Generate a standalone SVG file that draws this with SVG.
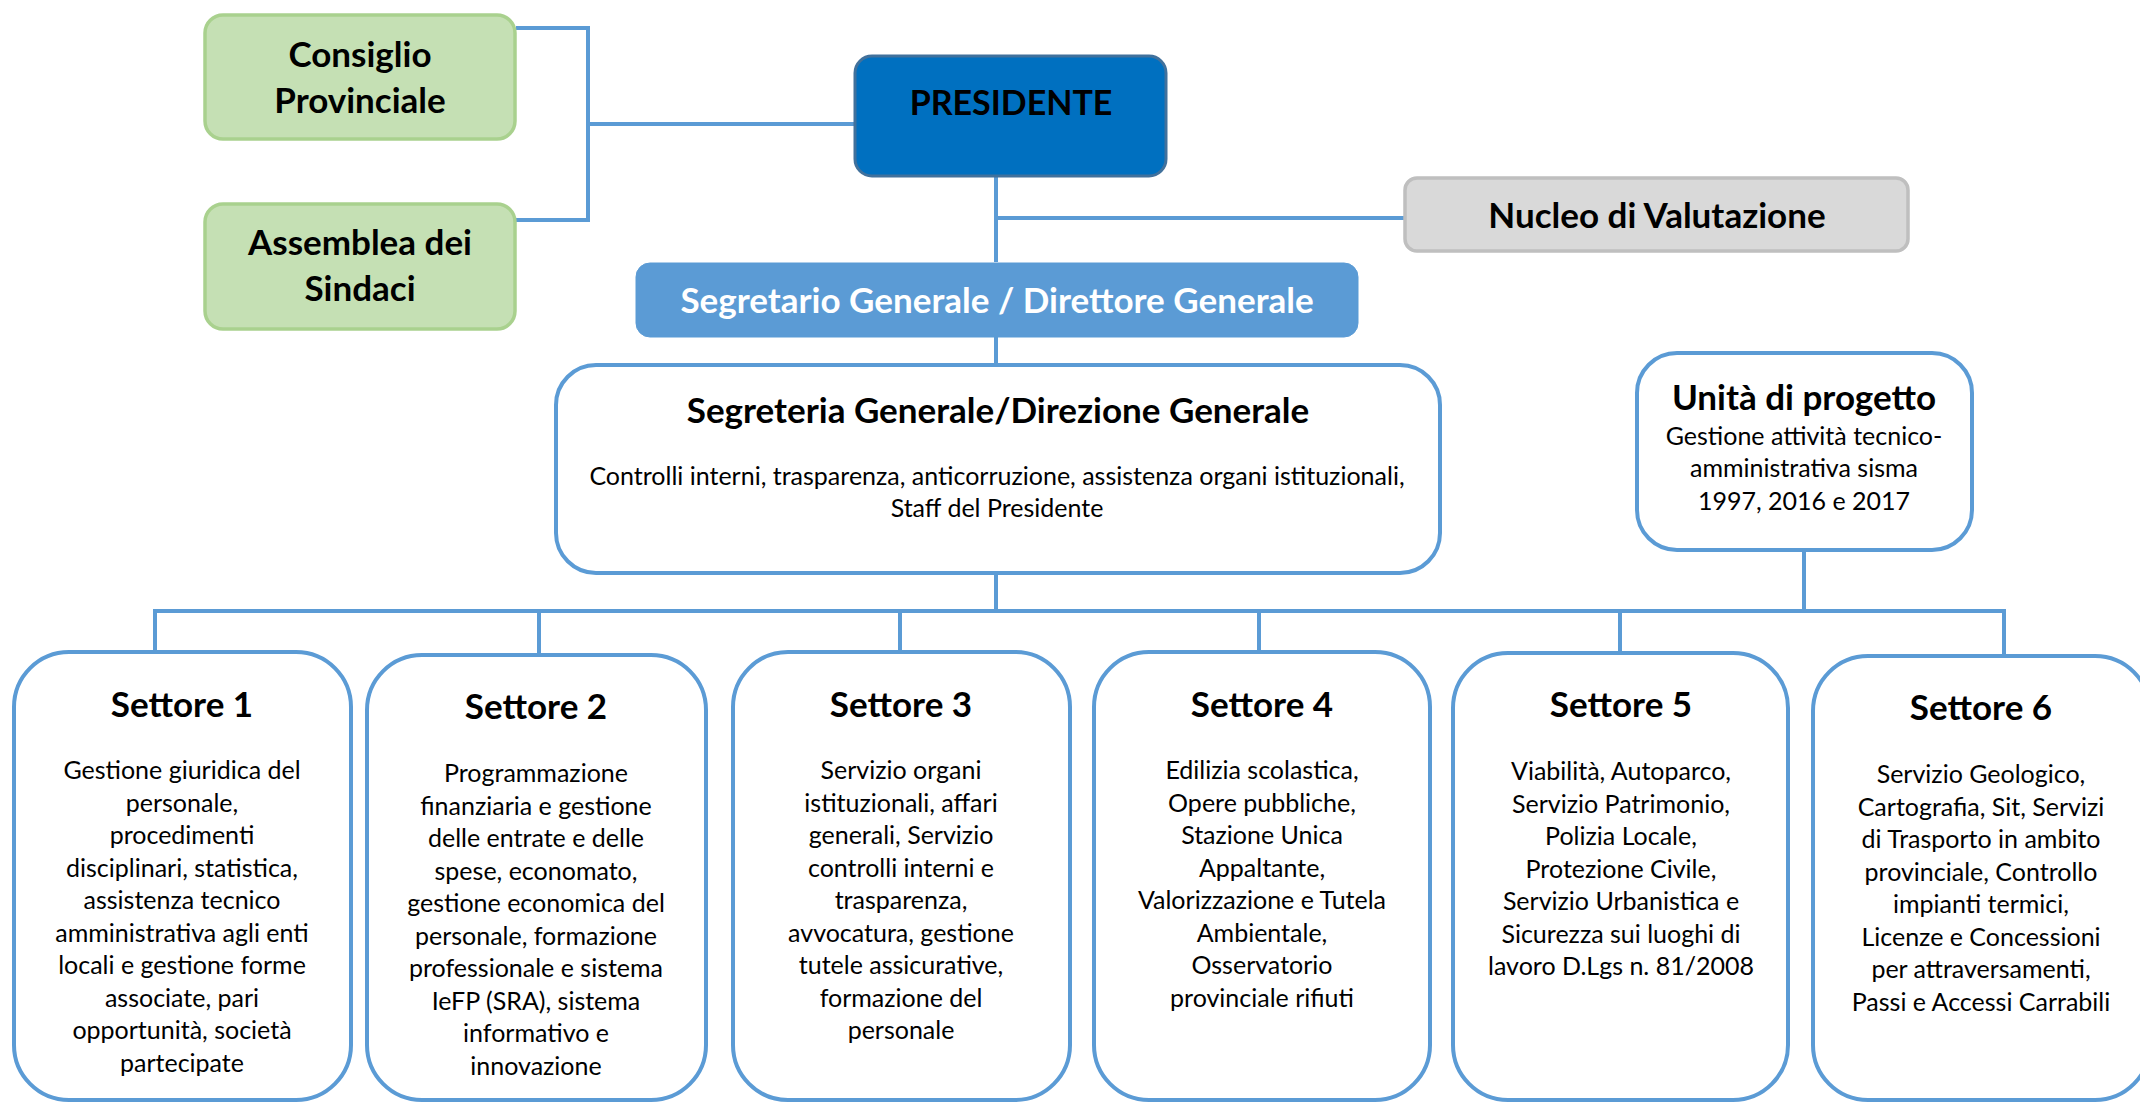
<svg xmlns="http://www.w3.org/2000/svg" width="2140" height="1102" viewBox="0 0 2140 1102">
<style>
.t{font-family:Lato,"Open Sans","Liberation Sans",sans-serif;text-anchor:middle;fill:#000}
.h{font-weight:bold;font-size:35px}
.p{font-size:34px}
.b{font-size:25px}
.w{fill:#fff}
.green{fill:#C5E0B4;stroke:#A9D18E;stroke-width:3.5}
.pres{fill:#0070C0;stroke:#41719C;stroke-width:3}
.grey{fill:#D9D9D9;stroke:#BFBFBF;stroke-width:3.5}
.seg{fill:#5B9BD5;stroke:#5B9BD5;stroke-width:1}
.box{fill:#fff;stroke:#5B9BD5;stroke-width:4}
.ln{fill:none;stroke:#5B9BD5;stroke-width:4}
</style>
<g id="connectors">
<path class="ln" d="M516,28 H588 V220 H516"/>
<path class="ln" d="M588,124 H855"/>
<path class="ln" d="M996,177 V262"/>
<path class="ln" d="M996,218 H1404"/>
<path class="ln" d="M996,337 V365"/>
<path class="ln" d="M996,573 V611"/>
<path class="ln" d="M1804,550 V611"/>
<path class="ln" d="M153,611 H2006"/>
<path class="ln" d="M155,611 V652"/>
<path class="ln" d="M539,611 V655"/>
<path class="ln" d="M900,611 V652"/>
<path class="ln" d="M1259,611 V652"/>
<path class="ln" d="M1620,611 V653"/>
<path class="ln" d="M2004,611 V656"/>
</g>
<g id="consiglio">
<rect class="green" x="205" y="15" width="310" height="124" rx="18"/>
<text class="t h" x="360" y="67">Consiglio</text>
<text class="t h" x="360" y="113">Provinciale</text>
</g>
<g id="assemblea">
<rect class="green" x="205" y="204" width="310" height="125" rx="18"/>
<text class="t h" x="360" y="255">Assemblea dei</text>
<text class="t h" x="360" y="301">Sindaci</text>
</g>
<g id="presidente">
<rect class="pres" x="855" y="56" width="311" height="120" rx="17"/>
<text class="t h p" x="1011" y="115">PRESIDENTE</text>
</g>
<g id="nucleo">
<rect class="grey" x="1405" y="178" width="503" height="73" rx="12"/>
<text class="t h" x="1657" y="228">Nucleo di Valutazione</text>
</g>
<g id="segretario">
<rect class="seg" x="636" y="263" width="722" height="74" rx="14"/>
<text class="t h w" x="997" y="313">Segretario Generale / Direttore Generale</text>
</g>
<g id="segreteria">
<rect class="box" x="556" y="365" width="884" height="208" rx="40"/>
<text class="t h" x="998" y="423">Segreteria Generale/Direzione Generale</text>
<text class="t b" x="997" y="485">Controlli interni, trasparenza, anticorruzione, assistenza organi istituzionali,</text>
<text class="t b" x="997" y="517">Staff del Presidente</text>
</g>
<g id="unita">
<rect class="box" x="1637" y="353" width="335" height="197" rx="40"/>
<text class="t h" x="1804" y="410">Unità di progetto</text>
<text class="t b" x="1804" y="445">Gestione attività tecnico-</text>
<text class="t b" x="1804" y="477">amministrativa sisma</text>
<text class="t b" x="1804" y="510">1997, 2016 e 2017</text>
</g>
<g id="settore1">
<rect class="box" x="14" y="652" width="337" height="448" rx="55"/>
<text class="t h" x="182" y="717">Settore 1</text>
<text class="t b" x="182" y="779">Gestione giuridica del</text>
<text class="t b" x="182" y="811.5">personale,</text>
<text class="t b" x="182" y="844">procedimenti</text>
<text class="t b" x="182" y="876.5">disciplinari, statistica,</text>
<text class="t b" x="182" y="909">assistenza tecnico</text>
<text class="t b" x="182" y="941.5">amministrativa agli enti</text>
<text class="t b" x="182" y="974">locali e gestione forme</text>
<text class="t b" x="182" y="1006.5">associate, pari</text>
<text class="t b" x="182" y="1039">opportunità, società</text>
<text class="t b" x="182" y="1071.5">partecipate</text>
</g>
<g id="settore2">
<rect class="box" x="367" y="655" width="339" height="445" rx="55"/>
<text class="t h" x="536" y="719">Settore 2</text>
<text class="t b" x="536" y="782">Programmazione</text>
<text class="t b" x="536" y="814.5">finanziaria e gestione</text>
<text class="t b" x="536" y="847">delle entrate e delle</text>
<text class="t b" x="536" y="879.5">spese, economato,</text>
<text class="t b" x="536" y="912">gestione economica del</text>
<text class="t b" x="536" y="944.5">personale, formazione</text>
<text class="t b" x="536" y="977">professionale e sistema</text>
<text class="t b" x="536" y="1009.5">IeFP (SRA), sistema</text>
<text class="t b" x="536" y="1042">informativo e</text>
<text class="t b" x="536" y="1074.5">innovazione</text>
</g>
<g id="settore3">
<rect class="box" x="733" y="652" width="337" height="448" rx="55"/>
<text class="t h" x="901" y="717">Settore 3</text>
<text class="t b" x="901" y="779">Servizio organi</text>
<text class="t b" x="901" y="811.5">istituzionali, affari</text>
<text class="t b" x="901" y="844">generali, Servizio</text>
<text class="t b" x="901" y="876.5">controlli interni e</text>
<text class="t b" x="901" y="909">trasparenza,</text>
<text class="t b" x="901" y="941.5">avvocatura, gestione</text>
<text class="t b" x="901" y="974">tutele assicurative,</text>
<text class="t b" x="901" y="1006.5">formazione del</text>
<text class="t b" x="901" y="1039">personale</text>
</g>
<g id="settore4">
<rect class="box" x="1094" y="652" width="336" height="448" rx="55"/>
<text class="t h" x="1262" y="717">Settore 4</text>
<text class="t b" x="1262" y="779">Edilizia scolastica,</text>
<text class="t b" x="1262" y="811.5">Opere pubbliche,</text>
<text class="t b" x="1262" y="844">Stazione Unica</text>
<text class="t b" x="1262" y="876.5">Appaltante,</text>
<text class="t b" x="1262" y="909">Valorizzazione e Tutela</text>
<text class="t b" x="1262" y="941.5">Ambientale,</text>
<text class="t b" x="1262" y="974">Osservatorio</text>
<text class="t b" x="1262" y="1006.5">provinciale rifiuti</text>
</g>
<g id="settore5">
<rect class="box" x="1453" y="653" width="335" height="447" rx="55"/>
<text class="t h" x="1621" y="717">Settore 5</text>
<text class="t b" x="1621" y="780">Viabilità, Autoparco,</text>
<text class="t b" x="1621" y="812.5">Servizio Patrimonio,</text>
<text class="t b" x="1621" y="845">Polizia Locale,</text>
<text class="t b" x="1621" y="877.5">Protezione Civile,</text>
<text class="t b" x="1621" y="910">Servizio Urbanistica e</text>
<text class="t b" x="1621" y="942.5">Sicurezza sui luoghi di</text>
<text class="t b" x="1621" y="975">lavoro D.Lgs n. 81/2008</text>
</g>
<g id="settore6">
<rect class="box" x="1813" y="656" width="337" height="444" rx="55"/>
<text class="t h" x="1981" y="720">Settore 6</text>
<text class="t b" x="1981" y="783">Servizio Geologico,</text>
<text class="t b" x="1981" y="815.5">Cartografia, Sit, Servizi</text>
<text class="t b" x="1981" y="848">di Trasporto in ambito</text>
<text class="t b" x="1981" y="880.5">provinciale, Controllo</text>
<text class="t b" x="1981" y="913">impianti termici,</text>
<text class="t b" x="1981" y="945.5">Licenze e Concessioni</text>
<text class="t b" x="1981" y="978">per attraversamenti,</text>
<text class="t b" x="1981" y="1010.5">Passi e Accessi Carrabili</text>
</g>
</svg>
